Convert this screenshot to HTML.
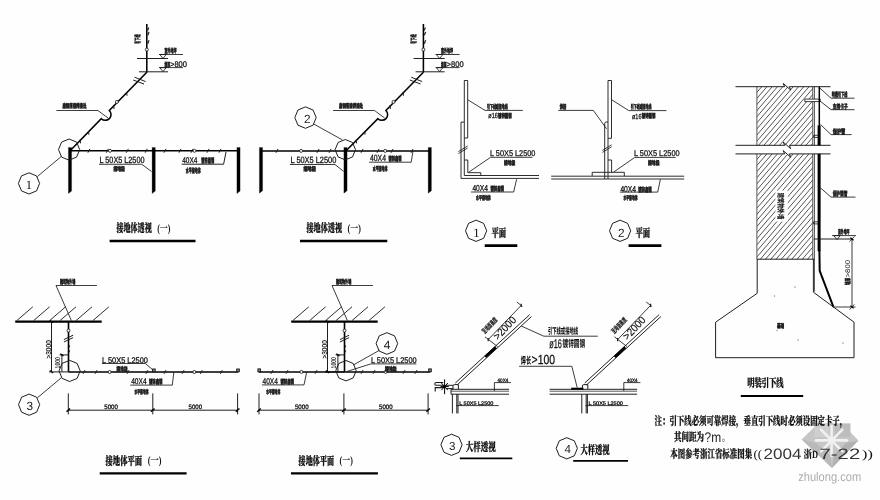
<!DOCTYPE html>
<html lang="zh-CN">
<head>
<meta charset="utf-8">
<title>接地体与引下线安装大样图</title>
<style>
html,body{margin:0;padding:0;background:#fff;}
body{width:880px;height:500px;overflow:hidden;}
svg{display:block;filter:blur(0.3px);}
svg text{white-space:pre;}
</style>
</head>
<body>
<svg width="880" height="500" viewBox="0 0 880 500" shape-rendering="geometricPrecision" text-rendering="geometricPrecision">
<rect x="0" y="0" width="880" height="500" fill="#fefefe"/>
<g stroke-linecap="butt">
<line x1="146.8" y1="24" x2="146.8" y2="72.4" stroke="#000" stroke-width="1.55"/>
<line x1="147.65" y1="30.5" x2="148.75" y2="27.5" stroke="#1a1a1a" stroke-width="1.1"/>
<line x1="147.78" y1="35.29" x2="149.02" y2="31.91" stroke="#1a1a1a" stroke-width="1.16"/>
<line x1="147.78" y1="43.69" x2="149.02" y2="40.31" stroke="#1a1a1a" stroke-width="1.16"/>
<circle cx="146.8" cy="49.6" r="1.5" fill="#fff" stroke="#1a1a1a" stroke-width="0.85"/>
<line x1="137" y1="58.5" x2="168" y2="58.5" stroke="#1a1a1a" stroke-width="0.98"/>
<line x1="139" y1="71.8" x2="168" y2="71.8" stroke="#1a1a1a" stroke-width="0.98"/>
<line x1="159" y1="54.5" x2="183" y2="54.5" stroke="#1a1a1a" stroke-width="0.85"/>
<polygon points="159.8,54.5 166.2,54.5 163,58.5" fill="none" stroke="#1a1a1a" stroke-width="0.85" stroke-linejoin="miter"/>
<line x1="159" y1="67.6" x2="183" y2="67.6" stroke="#1a1a1a" stroke-width="0.85"/>
<polygon points="159.8,67.6 166.2,67.6 163,71.6" fill="none" stroke="#1a1a1a" stroke-width="0.85" stroke-linejoin="miter"/>
<text x="164.5" y="52.8" font-size="6.2" font-family='"Liberation Sans","Noto Sans CJK SC",sans-serif' font-weight="900" textLength="12" lengthAdjust="spacingAndGlyphs" fill="#111" stroke="#111" stroke-width="0.42">室外地坪</text>
<text x="164.5" y="66.6" font-size="6.2" font-family='"Liberation Sans","Noto Sans CJK SC",sans-serif' font-weight="900" textLength="5.4" lengthAdjust="spacingAndGlyphs" fill="#111" stroke="#111" stroke-width="0.42">埋深</text>
<text x="170" y="66.6" font-size="8.2" font-family='"Liberation Sans","Noto Sans CJK SC",sans-serif' textLength="17" lengthAdjust="spacingAndGlyphs" fill="#111" stroke="#111" stroke-width="0.28">&gt;800</text>
<text x="139.6" y="43.8" font-size="6.6" font-family='"Liberation Sans","Noto Sans CJK SC",sans-serif' font-weight="900" textLength="9.4" lengthAdjust="spacingAndGlyphs" transform="rotate(-90 139.6 43.8)" fill="#111" stroke="#111" stroke-width="0.4">引下线</text>
<path d="M146.8,72.2 L109.3,110.5 A5.7,5.7 0 0 1 101.3,118.7 L70.6,150.2" fill="none" stroke="#000" stroke-width="1.55"/>
<line x1="134.6" y1="77.2" x2="145.6" y2="81.6" stroke="#1a1a1a" stroke-width="0.98"/>
<line x1="133.2" y1="80" x2="144" y2="84" stroke="#1a1a1a" stroke-width="0.98"/>
<circle cx="116.9" cy="101.9" r="1.5" fill="#fff" stroke="#1a1a1a" stroke-width="0.85"/>
<line x1="126.99" y1="95.75" x2="126.66" y2="91.97" stroke="#1a1a1a" stroke-width="0.98"/>
<line x1="114.04" y1="109.01" x2="113.71" y2="105.23" stroke="#1a1a1a" stroke-width="0.98"/>
<line x1="88.89" y1="134.75" x2="88.56" y2="130.97" stroke="#1a1a1a" stroke-width="0.98"/>
<line x1="80.51" y1="143.33" x2="80.18" y2="139.55" stroke="#1a1a1a" stroke-width="0.98"/>
<polyline points="56.4,110.5 97.9,110.5 108,118" fill="none" stroke="#1a1a1a" stroke-width="0.85" stroke-linejoin="miter"/>
<text x="62.4" y="108.4" font-size="6" font-family='"Liberation Sans","Noto Sans CJK SC",sans-serif' font-weight="900" textLength="24" lengthAdjust="spacingAndGlyphs" fill="#111" stroke="#111" stroke-width="0.42">扁钢搭接焊接处</text>
<line x1="70" y1="150.8" x2="238.5" y2="150.8" stroke="#000" stroke-width="1.5"/>
<polygon points="68.4,147.4 71.6,147.4 71.6,191.1 68.4,193.6" fill="#000" stroke="#000" stroke-width="0.24" stroke-linejoin="miter"/>
<polygon points="152.1,147.4 155.3,147.4 155.3,191.1 152.1,193.6" fill="#000" stroke="#000" stroke-width="0.24" stroke-linejoin="miter"/>
<polygon points="236.9,147.4 240.1,147.4 240.1,191.1 236.9,193.6" fill="#000" stroke="#000" stroke-width="0.24" stroke-linejoin="miter"/>
<polygon points="69.1,139 76.6,142.1 79.7,149.6 76.6,157.1 69.1,160.2 61.6,157.1 58.5,149.6 61.6,142.1" fill="none" stroke="#1a1a1a" stroke-width="0.98" stroke-linejoin="round"/>
<polygon points="29,172.8 36.5,175.9 39.6,183.4 36.5,190.9 29,194 21.5,190.9 18.4,183.4 21.5,175.9" fill="none" stroke="#1a1a1a" stroke-width="0.98" stroke-linejoin="round"/>
<line x1="37.3" y1="176.6" x2="60.9" y2="156.8" stroke="#1a1a1a" stroke-width="0.85"/>
<text x="28.8" y="189.2" font-size="12.6" font-family='"Liberation Serif","Noto Serif CJK SC",serif' text-anchor="middle" fill="#111">1</text>
<circle cx="110" cy="150.8" r="1.5" fill="#fff" stroke="#1a1a1a" stroke-width="0.85"/>
<circle cx="194.5" cy="150.8" r="1.5" fill="#fff" stroke="#1a1a1a" stroke-width="0.85"/>
<line x1="87.87" y1="152.74" x2="89.93" y2="148.86" stroke="#1a1a1a" stroke-width="0.98"/>
<line x1="106.27" y1="152.74" x2="108.33" y2="148.86" stroke="#1a1a1a" stroke-width="0.98"/>
<line x1="126.27" y1="152.74" x2="128.33" y2="148.86" stroke="#1a1a1a" stroke-width="0.98"/>
<line x1="145.17" y1="152.74" x2="147.23" y2="148.86" stroke="#1a1a1a" stroke-width="0.98"/>
<line x1="163.97" y1="152.74" x2="166.03" y2="148.86" stroke="#1a1a1a" stroke-width="0.98"/>
<line x1="178.97" y1="152.74" x2="181.03" y2="148.86" stroke="#1a1a1a" stroke-width="0.98"/>
<line x1="190.97" y1="152.74" x2="193.03" y2="148.86" stroke="#1a1a1a" stroke-width="0.98"/>
<line x1="206.97" y1="152.74" x2="209.03" y2="148.86" stroke="#1a1a1a" stroke-width="0.98"/>
<line x1="218.97" y1="152.74" x2="221.03" y2="148.86" stroke="#1a1a1a" stroke-width="0.98"/>
<text x="99.5" y="163.2" font-size="9" font-family='"Liberation Sans","Noto Sans CJK SC",sans-serif' textLength="45" lengthAdjust="spacingAndGlyphs" fill="#111" stroke="#111" stroke-width="0.28">L 50X5 L2500</text>
<polyline points="99,164.3 141.8,164.3 151.5,171.5" fill="none" stroke="#1a1a1a" stroke-width="0.85" stroke-linejoin="miter"/>
<text x="113.4" y="171.2" font-size="6" font-family='"Liberation Sans","Noto Sans CJK SC",sans-serif' font-weight="900" textLength="11.6" lengthAdjust="spacingAndGlyphs" fill="#111" stroke="#111" stroke-width="0.42">接地极</text>
<text x="182.2" y="163" font-size="8.4" font-family='"Liberation Sans","Noto Sans CJK SC",sans-serif' textLength="15.2" lengthAdjust="spacingAndGlyphs" fill="#111" stroke="#111" stroke-width="0.28">40X4</text>
<text x="201.3" y="163.2" font-size="6.8" font-family='"Liberation Sans","Noto Sans CJK SC",sans-serif' font-weight="900" textLength="12.8" lengthAdjust="spacingAndGlyphs" fill="#111" stroke="#111" stroke-width="0.42">镀锌扁钢</text>
<polyline points="181.6,164.2 223.6,164.2 226,152" fill="none" stroke="#1a1a1a" stroke-width="0.98" stroke-linejoin="miter"/>
<text x="185.8" y="172.5" font-size="6.5" font-family='"Liberation Sans","Noto Sans CJK SC",sans-serif' font-weight="900" textLength="14.8" lengthAdjust="spacingAndGlyphs" fill="#111" stroke="#111" stroke-width="0.42">水平接地体</text>
<text x="116.4" y="232" font-size="11.6" font-family='"Liberation Serif","Noto Serif CJK SC",serif' font-weight="900" textLength="35.37" lengthAdjust="spacingAndGlyphs" fill="#111" stroke="#000" stroke-width="0.25">接地体透视</text>
<text x="157.17" y="231.6" font-size="11.02" font-family='"Liberation Serif","Noto Serif CJK SC",serif' font-weight="bold" textLength="13.23" lengthAdjust="spacingAndGlyphs" fill="#111">(一)</text>
<line x1="109.6" y1="241" x2="195.5" y2="241" stroke="#000" stroke-width="2.3"/>
<line x1="423.4" y1="24" x2="423.4" y2="72.4" stroke="#000" stroke-width="1.55"/>
<line x1="424.25" y1="30.5" x2="425.35" y2="27.5" stroke="#1a1a1a" stroke-width="1.1"/>
<line x1="424.38" y1="35.29" x2="425.62" y2="31.91" stroke="#1a1a1a" stroke-width="1.16"/>
<line x1="424.38" y1="43.69" x2="425.62" y2="40.31" stroke="#1a1a1a" stroke-width="1.16"/>
<circle cx="423.4" cy="49.6" r="1.5" fill="#fff" stroke="#1a1a1a" stroke-width="0.85"/>
<line x1="413.6" y1="58.5" x2="444.6" y2="58.5" stroke="#1a1a1a" stroke-width="0.98"/>
<line x1="415.6" y1="71.8" x2="444.6" y2="71.8" stroke="#1a1a1a" stroke-width="0.98"/>
<line x1="435.6" y1="54.5" x2="459.6" y2="54.5" stroke="#1a1a1a" stroke-width="0.85"/>
<polygon points="436.4,54.5 442.8,54.5 439.6,58.5" fill="none" stroke="#1a1a1a" stroke-width="0.85" stroke-linejoin="miter"/>
<line x1="435.6" y1="67.6" x2="459.6" y2="67.6" stroke="#1a1a1a" stroke-width="0.85"/>
<polygon points="436.4,67.6 442.8,67.6 439.6,71.6" fill="none" stroke="#1a1a1a" stroke-width="0.85" stroke-linejoin="miter"/>
<text x="441.1" y="52.8" font-size="6.2" font-family='"Liberation Sans","Noto Sans CJK SC",sans-serif' font-weight="900" textLength="12" lengthAdjust="spacingAndGlyphs" fill="#111" stroke="#111" stroke-width="0.42">室外地坪</text>
<text x="441.1" y="66.6" font-size="6.2" font-family='"Liberation Sans","Noto Sans CJK SC",sans-serif' font-weight="900" textLength="5.4" lengthAdjust="spacingAndGlyphs" fill="#111" stroke="#111" stroke-width="0.42">埋深</text>
<text x="446.6" y="66.6" font-size="8.2" font-family='"Liberation Sans","Noto Sans CJK SC",sans-serif' textLength="17" lengthAdjust="spacingAndGlyphs" fill="#111" stroke="#111" stroke-width="0.28">&gt;800</text>
<text x="416.2" y="43.8" font-size="6.6" font-family='"Liberation Sans","Noto Sans CJK SC",sans-serif' font-weight="900" textLength="9.4" lengthAdjust="spacingAndGlyphs" transform="rotate(-90 416.2 43.8)" fill="#111" stroke="#111" stroke-width="0.4">引下线</text>
<path d="M423.4,72.2 L385.9,110.5 A5.7,5.7 0 0 1 377.9,118.7 L346.6,150.2" fill="none" stroke="#000" stroke-width="1.55"/>
<line x1="411.2" y1="77.2" x2="422.2" y2="81.6" stroke="#1a1a1a" stroke-width="0.98"/>
<line x1="409.8" y1="80" x2="420.6" y2="84" stroke="#1a1a1a" stroke-width="0.98"/>
<circle cx="393.5" cy="101.9" r="1.5" fill="#fff" stroke="#1a1a1a" stroke-width="0.85"/>
<line x1="403.43" y1="95.75" x2="403.1" y2="91.97" stroke="#1a1a1a" stroke-width="0.98"/>
<line x1="390.37" y1="109.01" x2="390.04" y2="105.23" stroke="#1a1a1a" stroke-width="0.98"/>
<line x1="365.03" y1="134.75" x2="364.7" y2="130.97" stroke="#1a1a1a" stroke-width="0.98"/>
<line x1="356.58" y1="143.33" x2="356.25" y2="139.55" stroke="#1a1a1a" stroke-width="0.98"/>
<polyline points="333,110.5 374.5,110.5 384.6,118" fill="none" stroke="#1a1a1a" stroke-width="0.85" stroke-linejoin="miter"/>
<text x="339" y="108.4" font-size="6" font-family='"Liberation Sans","Noto Sans CJK SC",sans-serif' font-weight="900" textLength="24" lengthAdjust="spacingAndGlyphs" fill="#111" stroke="#111" stroke-width="0.42">扁钢搭接焊接处</text>
<line x1="261" y1="150.9" x2="429.6" y2="150.9" stroke="#000" stroke-width="1.5"/>
<polygon points="259.4,147.4 262.6,147.4 262.6,190.7 259.4,193.2" fill="#000" stroke="#000" stroke-width="0.24" stroke-linejoin="miter"/>
<polygon points="343.9,147.4 347.1,147.4 347.1,190.7 343.9,193.2" fill="#000" stroke="#000" stroke-width="0.24" stroke-linejoin="miter"/>
<polygon points="428.2,147.4 431.4,147.4 431.4,190.7 428.2,193.2" fill="#000" stroke="#000" stroke-width="0.24" stroke-linejoin="miter"/>
<polygon points="345.3,139.5 352.51,142.49 355.5,149.7 352.51,156.91 345.3,159.9 338.09,156.91 335.1,149.7 338.09,142.49" fill="none" stroke="#1a1a1a" stroke-width="0.98" stroke-linejoin="round"/>
<polygon points="305.5,106.9 313.07,110.03 316.2,117.6 313.07,125.17 305.5,128.3 297.93,125.17 294.8,117.6 297.93,110.03" fill="none" stroke="#1a1a1a" stroke-width="0.98" stroke-linejoin="round"/>
<line x1="313.7" y1="124" x2="342.4" y2="139.9" stroke="#1a1a1a" stroke-width="0.85"/>
<text x="307.2" y="123.4" font-size="11.8" font-family='"Liberation Sans","Noto Sans CJK SC",sans-serif' text-anchor="middle" fill="#222">2</text>
<circle cx="301.1" cy="150.9" r="1.5" fill="#fff" stroke="#1a1a1a" stroke-width="0.85"/>
<circle cx="385.2" cy="150.9" r="1.5" fill="#fff" stroke="#1a1a1a" stroke-width="0.85"/>
<line x1="275.97" y1="152.84" x2="278.03" y2="148.96" stroke="#1a1a1a" stroke-width="0.98"/>
<line x1="316.97" y1="152.84" x2="319.03" y2="148.96" stroke="#1a1a1a" stroke-width="0.98"/>
<line x1="328.97" y1="152.84" x2="331.03" y2="148.96" stroke="#1a1a1a" stroke-width="0.98"/>
<line x1="360.97" y1="152.84" x2="363.03" y2="148.96" stroke="#1a1a1a" stroke-width="0.98"/>
<line x1="376.97" y1="152.84" x2="379.03" y2="148.96" stroke="#1a1a1a" stroke-width="0.98"/>
<line x1="390.97" y1="152.84" x2="393.03" y2="148.96" stroke="#1a1a1a" stroke-width="0.98"/>
<line x1="410.97" y1="152.84" x2="413.03" y2="148.96" stroke="#1a1a1a" stroke-width="0.98"/>
<text x="290.5" y="162.6" font-size="9" font-family='"Liberation Sans","Noto Sans CJK SC",sans-serif' textLength="45.8" lengthAdjust="spacingAndGlyphs" fill="#111" stroke="#111" stroke-width="0.28">L 50X5 L2500</text>
<polyline points="290,164.5 335,164.5 343.6,171.4" fill="none" stroke="#1a1a1a" stroke-width="0.85" stroke-linejoin="miter"/>
<text x="303.4" y="171.4" font-size="6" font-family='"Liberation Sans","Noto Sans CJK SC",sans-serif' font-weight="900" textLength="12.6" lengthAdjust="spacingAndGlyphs" fill="#111" stroke="#111" stroke-width="0.42">接地极</text>
<text x="370" y="161" font-size="9" font-family='"Liberation Sans","Noto Sans CJK SC",sans-serif' textLength="16" lengthAdjust="spacingAndGlyphs" fill="#111" stroke="#111" stroke-width="0.28">40X4</text>
<text x="388.5" y="161" font-size="6.4" font-family='"Liberation Sans","Noto Sans CJK SC",sans-serif' font-weight="900" textLength="13" lengthAdjust="spacingAndGlyphs" fill="#111" stroke="#111" stroke-width="0.42">镀锌扁钢</text>
<polyline points="369,162.2 411.2,162.2 413,151" fill="none" stroke="#1a1a1a" stroke-width="0.85" stroke-linejoin="miter"/>
<text x="372.7" y="170.8" font-size="6.2" font-family='"Liberation Sans","Noto Sans CJK SC",sans-serif' font-weight="900" textLength="14.8" lengthAdjust="spacingAndGlyphs" fill="#111" stroke="#111" stroke-width="0.42">水平接地体</text>
<text x="306.4" y="232" font-size="11.6" font-family='"Liberation Serif","Noto Serif CJK SC",serif' font-weight="900" textLength="35.76" lengthAdjust="spacingAndGlyphs" fill="#111" stroke="#000" stroke-width="0.25">接地体透视</text>
<text x="347.62" y="231.6" font-size="11.02" font-family='"Liberation Serif","Noto Serif CJK SC",serif' font-weight="bold" textLength="13.38" lengthAdjust="spacingAndGlyphs" fill="#111">(一)</text>
<line x1="300" y1="241" x2="387.3" y2="241" stroke="#000" stroke-width="2.3"/>
<polyline points="464.3,175.5 464.3,80.5 467.7,80.5 467.7,138 464.3,138" fill="none" stroke="#1a1a1a" stroke-width="0.92" stroke-linejoin="miter"/>
<polyline points="464.3,122.1 461,122.1 461,178.4 539,178.4" fill="none" stroke="#1a1a1a" stroke-width="0.92" stroke-linejoin="miter"/>
<line x1="464.3" y1="175.5" x2="539" y2="175.5" stroke="#1a1a1a" stroke-width="0.92"/>
<polyline points="464.3,160 467.8,160 467.8,172.7 480.8,172.7 480.8,175.5" fill="none" stroke="#1a1a1a" stroke-width="0.92" stroke-linejoin="miter"/>
<line x1="458.4" y1="151.6" x2="467.6" y2="146" stroke="#1a1a1a" stroke-width="0.85"/>
<line x1="458.4" y1="153.6" x2="467.6" y2="148" stroke="#1a1a1a" stroke-width="0.85"/>
<polyline points="467.8,99.8 485,110.4 522.8,110.4" fill="none" stroke="#1a1a1a" stroke-width="0.85" stroke-linejoin="miter"/>
<text x="487" y="109" font-size="6.2" font-family='"Liberation Sans","Noto Sans CJK SC",sans-serif' font-weight="900" textLength="20.6" lengthAdjust="spacingAndGlyphs" fill="#111" stroke="#111" stroke-width="0.42">引下线或接地线</text>
<text x="488.3" y="118.3" font-size="7.4" font-family='"Liberation Sans","Noto Sans CJK SC",sans-serif' textLength="9.5" lengthAdjust="spacingAndGlyphs" fill="#111" stroke="#111" stroke-width="0.28">ø16</text>
<text x="498" y="118.2" font-size="6.2" font-family='"Liberation Sans","Noto Sans CJK SC",sans-serif' font-weight="900" textLength="13.6" lengthAdjust="spacingAndGlyphs" fill="#111" stroke="#111" stroke-width="0.42">镀锌圆钢</text>
<polyline points="469,172 490.6,157.3 532.5,157.3" fill="none" stroke="#1a1a1a" stroke-width="0.85" stroke-linejoin="miter"/>
<text x="490" y="156.2" font-size="8.3" font-family='"Liberation Sans","Noto Sans CJK SC",sans-serif' textLength="45.4" lengthAdjust="spacingAndGlyphs" fill="#111" stroke="#111" stroke-width="0.28">L 50X5 L2500</text>
<text x="504" y="164.8" font-size="6" font-family='"Liberation Sans","Noto Sans CJK SC",sans-serif' font-weight="900" textLength="11.4" lengthAdjust="spacingAndGlyphs" fill="#111" stroke="#111" stroke-width="0.42">接地极</text>
<text x="472.4" y="191.3" font-size="8.6" font-family='"Liberation Sans","Noto Sans CJK SC",sans-serif' textLength="15.6" lengthAdjust="spacingAndGlyphs" fill="#111" stroke="#111" stroke-width="0.28">40X4</text>
<text x="490.4" y="191.3" font-size="6.4" font-family='"Liberation Sans","Noto Sans CJK SC",sans-serif' font-weight="900" textLength="13.6" lengthAdjust="spacingAndGlyphs" fill="#111" stroke="#111" stroke-width="0.42">镀锌扁钢</text>
<polyline points="471,192 513.7,192 516.6,179.2" fill="none" stroke="#1a1a1a" stroke-width="0.85" stroke-linejoin="miter"/>
<text x="476" y="199.6" font-size="6" font-family='"Liberation Sans","Noto Sans CJK SC",sans-serif' font-weight="900" textLength="14.8" lengthAdjust="spacingAndGlyphs" fill="#111" stroke="#111" stroke-width="0.42">水平接地体</text>
<polygon points="476.1,220.2 483.6,223.3 486.7,230.8 483.6,238.3 476.1,241.4 468.6,238.3 465.5,230.8 468.6,223.3" fill="none" stroke="#1a1a1a" stroke-width="0.98" stroke-linejoin="round"/>
<text x="476.4" y="236.8" font-size="12.6" font-family='"Liberation Serif","Noto Serif CJK SC",serif' text-anchor="middle" fill="#111">1</text>
<text x="491.4" y="237" font-size="11.8" font-family='"Liberation Serif","Noto Serif CJK SC",serif' font-weight="900" textLength="14.8" lengthAdjust="spacingAndGlyphs" fill="#111" stroke="#000" stroke-width="0.25">平面</text>
<line x1="484.7" y1="245.6" x2="517.3" y2="245.6" stroke="#000" stroke-width="2.6"/>
<polyline points="608,80.5 611.5,80.5 611.5,138.3 608,138.3" fill="none" stroke="#1a1a1a" stroke-width="0.92" stroke-linejoin="miter"/>
<line x1="608" y1="80.5" x2="608" y2="176.2" stroke="#1a1a1a" stroke-width="0.92"/>
<path d="M604.7,176.2 V123.6 Q604.7,122 606.3,122 H608" fill="none" stroke="#1a1a1a" stroke-width="0.92"/>
<line x1="551.2" y1="176.2" x2="684.2" y2="176.2" stroke="#1a1a1a" stroke-width="0.92"/>
<line x1="551.2" y1="179" x2="684.2" y2="179" stroke="#1a1a1a" stroke-width="0.92"/>
<line x1="604.7" y1="176.2" x2="604.7" y2="179" stroke="#1a1a1a" stroke-width="0.92"/>
<line x1="608" y1="176.2" x2="608" y2="179" stroke="#1a1a1a" stroke-width="0.92"/>
<polyline points="592.2,176.2 592.2,172.3 624.3,172.3 624.3,176.2" fill="none" stroke="#1a1a1a" stroke-width="0.92" stroke-linejoin="miter"/>
<polyline points="608,160 611.6,160 611.6,172.3" fill="none" stroke="#1a1a1a" stroke-width="0.92" stroke-linejoin="miter"/>
<line x1="602.4" y1="150.4" x2="611.6" y2="144.8" stroke="#1a1a1a" stroke-width="0.85"/>
<line x1="602.4" y1="152.4" x2="611.6" y2="146.8" stroke="#1a1a1a" stroke-width="0.85"/>
<polyline points="558.3,110.4 593.3,110.4 606.6,128.8" fill="none" stroke="#1a1a1a" stroke-width="0.85" stroke-linejoin="miter"/>
<text x="559.7" y="109" font-size="6.2" font-family='"Liberation Sans","Noto Sans CJK SC",sans-serif' font-weight="900" textLength="6.4" lengthAdjust="spacingAndGlyphs" fill="#111" stroke="#111" stroke-width="0.42">焊接</text>
<polyline points="612,100 628.8,110.6 666.5,110.6" fill="none" stroke="#1a1a1a" stroke-width="0.85" stroke-linejoin="miter"/>
<text x="630.8" y="109.2" font-size="6.2" font-family='"Liberation Sans","Noto Sans CJK SC",sans-serif' font-weight="900" textLength="20.6" lengthAdjust="spacingAndGlyphs" fill="#111" stroke="#111" stroke-width="0.42">引下线或接地线</text>
<text x="632" y="118.5" font-size="7.4" font-family='"Liberation Sans","Noto Sans CJK SC",sans-serif' textLength="9.5" lengthAdjust="spacingAndGlyphs" fill="#111" stroke="#111" stroke-width="0.28">ø16</text>
<text x="641.8" y="118.4" font-size="6.2" font-family='"Liberation Sans","Noto Sans CJK SC",sans-serif' font-weight="900" textLength="13.6" lengthAdjust="spacingAndGlyphs" fill="#111" stroke="#111" stroke-width="0.42">镀锌圆钢</text>
<polyline points="613.7,172 634.8,157.4 675.6,157.4" fill="none" stroke="#1a1a1a" stroke-width="0.85" stroke-linejoin="miter"/>
<text x="634" y="156.3" font-size="8.3" font-family='"Liberation Sans","Noto Sans CJK SC",sans-serif' textLength="45.6" lengthAdjust="spacingAndGlyphs" fill="#111" stroke="#111" stroke-width="0.28">L 50X5 L2500</text>
<text x="648" y="164.9" font-size="6" font-family='"Liberation Sans","Noto Sans CJK SC",sans-serif' font-weight="900" textLength="11.6" lengthAdjust="spacingAndGlyphs" fill="#111" stroke="#111" stroke-width="0.42">接地极</text>
<text x="620.4" y="191.5" font-size="8.6" font-family='"Liberation Sans","Noto Sans CJK SC",sans-serif' textLength="15.6" lengthAdjust="spacingAndGlyphs" fill="#111" stroke="#111" stroke-width="0.28">40X4</text>
<text x="638.2" y="191.5" font-size="6.4" font-family='"Liberation Sans","Noto Sans CJK SC",sans-serif' font-weight="900" textLength="13.4" lengthAdjust="spacingAndGlyphs" fill="#111" stroke="#111" stroke-width="0.42">镀锌扁钢</text>
<polyline points="619.9,192.1 657.7,192.1 660.4,179.3" fill="none" stroke="#1a1a1a" stroke-width="0.85" stroke-linejoin="miter"/>
<text x="623.4" y="200.3" font-size="6" font-family='"Liberation Sans","Noto Sans CJK SC",sans-serif' font-weight="900" textLength="14.2" lengthAdjust="spacingAndGlyphs" fill="#111" stroke="#111" stroke-width="0.42">水平接地体</text>
<polygon points="620.1,220.2 627.6,223.3 630.7,230.8 627.6,238.3 620.1,241.4 612.6,238.3 609.5,230.8 612.6,223.3" fill="none" stroke="#1a1a1a" stroke-width="0.98" stroke-linejoin="round"/>
<text x="621.2" y="236.8" font-size="11.8" font-family='"Liberation Sans","Noto Sans CJK SC",sans-serif' text-anchor="middle" fill="#222">2</text>
<text x="635.4" y="237" font-size="11.8" font-family='"Liberation Serif","Noto Serif CJK SC",serif' font-weight="900" textLength="14.8" lengthAdjust="spacingAndGlyphs" fill="#111" stroke="#000" stroke-width="0.25">平面</text>
<line x1="628.6" y1="245.6" x2="661.4" y2="245.6" stroke="#000" stroke-width="2.6"/>
<clipPath id="w1"><rect x="756.9" y="86.7" width="55.9" height="58.7"/></clipPath>
<clipPath id="w2"><rect x="756.9" y="153.9" width="55.9" height="105.3"/></clipPath>
<g clip-path="url(#w1)" stroke="#2a2a2a" stroke-width="0.8">
<line x1="755.9" y1="87.36" x2="813.8" y2="20.2"/>
<line x1="755.9" y1="93.46" x2="813.8" y2="26.3"/>
<line x1="755.9" y1="99.56" x2="813.8" y2="32.4"/>
<line x1="755.9" y1="105.66" x2="813.8" y2="38.5"/>
<line x1="755.9" y1="111.76" x2="813.8" y2="44.6"/>
<line x1="755.9" y1="117.86" x2="813.8" y2="50.7"/>
<line x1="755.9" y1="123.96" x2="813.8" y2="56.8"/>
<line x1="755.9" y1="130.06" x2="813.8" y2="62.9"/>
<line x1="755.9" y1="136.16" x2="813.8" y2="69"/>
<line x1="755.9" y1="142.26" x2="813.8" y2="75.1"/>
<line x1="755.9" y1="148.36" x2="813.8" y2="81.2"/>
<line x1="755.9" y1="154.46" x2="813.8" y2="87.3"/>
<line x1="755.9" y1="160.56" x2="813.8" y2="93.4"/>
<line x1="755.9" y1="166.66" x2="813.8" y2="99.5"/>
<line x1="755.9" y1="172.76" x2="813.8" y2="105.6"/>
<line x1="755.9" y1="178.86" x2="813.8" y2="111.7"/>
<line x1="755.9" y1="184.96" x2="813.8" y2="117.8"/>
<line x1="755.9" y1="191.06" x2="813.8" y2="123.9"/>
<line x1="755.9" y1="197.16" x2="813.8" y2="130"/>
<line x1="755.9" y1="203.26" x2="813.8" y2="136.1"/>
<line x1="755.9" y1="209.36" x2="813.8" y2="142.2"/>
</g>
<g clip-path="url(#w2)" stroke="#2a2a2a" stroke-width="0.8">
<line x1="755.9" y1="154.46" x2="813.8" y2="87.3"/>
<line x1="755.9" y1="160.56" x2="813.8" y2="93.4"/>
<line x1="755.9" y1="166.66" x2="813.8" y2="99.5"/>
<line x1="755.9" y1="172.76" x2="813.8" y2="105.6"/>
<line x1="755.9" y1="178.86" x2="813.8" y2="111.7"/>
<line x1="755.9" y1="184.96" x2="813.8" y2="117.8"/>
<line x1="755.9" y1="191.06" x2="813.8" y2="123.9"/>
<line x1="755.9" y1="197.16" x2="813.8" y2="130"/>
<line x1="755.9" y1="203.26" x2="813.8" y2="136.1"/>
<line x1="755.9" y1="209.36" x2="813.8" y2="142.2"/>
<line x1="755.9" y1="215.46" x2="813.8" y2="148.3"/>
<line x1="755.9" y1="221.56" x2="813.8" y2="154.4"/>
<line x1="755.9" y1="227.66" x2="813.8" y2="160.5"/>
<line x1="755.9" y1="233.76" x2="813.8" y2="166.6"/>
<line x1="755.9" y1="239.86" x2="813.8" y2="172.7"/>
<line x1="755.9" y1="245.96" x2="813.8" y2="178.8"/>
<line x1="755.9" y1="252.06" x2="813.8" y2="184.9"/>
<line x1="755.9" y1="258.16" x2="813.8" y2="191"/>
<line x1="755.9" y1="264.26" x2="813.8" y2="197.1"/>
<line x1="755.9" y1="270.36" x2="813.8" y2="203.2"/>
<line x1="755.9" y1="276.46" x2="813.8" y2="209.3"/>
<line x1="755.9" y1="282.56" x2="813.8" y2="215.4"/>
<line x1="755.9" y1="288.66" x2="813.8" y2="221.5"/>
<line x1="755.9" y1="294.76" x2="813.8" y2="227.6"/>
<line x1="755.9" y1="300.86" x2="813.8" y2="233.7"/>
<line x1="755.9" y1="306.96" x2="813.8" y2="239.8"/>
<line x1="755.9" y1="313.06" x2="813.8" y2="245.9"/>
<line x1="755.9" y1="319.16" x2="813.8" y2="252"/>
<line x1="755.9" y1="325.26" x2="813.8" y2="258.1"/>
</g>
<line x1="756.9" y1="86.7" x2="756.9" y2="145.3" stroke="#555" stroke-width="0.98"/>
<line x1="756.9" y1="153.9" x2="756.9" y2="259.2" stroke="#555" stroke-width="0.98"/>
<line x1="812.8" y1="86.7" x2="812.8" y2="145.3" stroke="#444" stroke-width="0.98"/>
<line x1="812.8" y1="153.9" x2="812.8" y2="259.2" stroke="#444" stroke-width="0.98"/>
<line x1="814.5" y1="86.7" x2="814.5" y2="145.3" stroke="#444" stroke-width="0.85"/>
<line x1="814.5" y1="153.9" x2="814.5" y2="291.5" stroke="#444" stroke-width="0.85"/>
<polyline points="735.5,86.7 784.6,86.7 783.2,83.4 790.6,90 789.4,86.7 830.5,86.7" fill="none" stroke="#1a1a1a" stroke-width="0.98" stroke-linejoin="miter"/>
<polyline points="735.5,145.3 784.6,145.3 783.2,142 790.6,148.6 789.4,145.3 830.5,145.3" fill="none" stroke="#1a1a1a" stroke-width="0.98" stroke-linejoin="miter"/>
<polyline points="735.5,153.9 784.6,153.9 783.2,150.6 790.6,157.2 789.4,153.9 830.5,153.9" fill="none" stroke="#1a1a1a" stroke-width="0.98" stroke-linejoin="miter"/>
<polygon points="820.2,99.1 804.8,99.1 804.8,101.6 820.2,101.6" fill="#fefefe" stroke="#1a1a1a" stroke-width="0.85" stroke-linejoin="miter"/>
<polyline points="818,135.3 813.6,135.3 813.6,137.4 818,137.4" fill="none" stroke="#1a1a1a" stroke-width="0.85" stroke-linejoin="miter"/>
<polyline points="818,221.8 813.6,221.8 813.6,223.9 818,223.9" fill="none" stroke="#1a1a1a" stroke-width="0.85" stroke-linejoin="miter"/>
<line x1="819.3" y1="86.7" x2="819.3" y2="145.3" stroke="#000" stroke-width="1.5"/>
<line x1="819.3" y1="153.9" x2="819.3" y2="252" stroke="#000" stroke-width="1.5"/>
<line x1="819.1" y1="125.4" x2="819.1" y2="145.3" stroke="#000" stroke-width="3"/>
<line x1="819.1" y1="153.9" x2="819.1" y2="251" stroke="#000" stroke-width="3"/>
<polyline points="819.4,250 819.7,270.8 833.4,306.8" fill="none" stroke="#000" stroke-width="2" stroke-linejoin="miter"/>
<polyline points="820,88.2 831,98.2 854.5,98.2" fill="none" stroke="#1a1a1a" stroke-width="0.85" stroke-linejoin="miter"/>
<text x="831.8" y="97" font-size="6.6" font-family='"Liberation Sans","Noto Sans CJK SC",sans-serif' font-weight="900" textLength="15.6" lengthAdjust="spacingAndGlyphs" fill="#111" stroke="#111" stroke-width="0.42">明敷引下线</text>
<polyline points="820,101 831,109.7 854.6,109.7" fill="none" stroke="#1a1a1a" stroke-width="0.85" stroke-linejoin="miter"/>
<text x="832.7" y="108.6" font-size="6.6" font-family='"Liberation Sans","Noto Sans CJK SC",sans-serif' font-weight="900" textLength="15" lengthAdjust="spacingAndGlyphs" fill="#111" stroke="#111" stroke-width="0.42">支持卡子</text>
<polyline points="820.6,124.6 831,134.6 851.6,134.6" fill="none" stroke="#1a1a1a" stroke-width="0.85" stroke-linejoin="miter"/>
<text x="832.7" y="133.5" font-size="6.6" font-family='"Liberation Sans","Noto Sans CJK SC",sans-serif' font-weight="900" textLength="12.6" lengthAdjust="spacingAndGlyphs" fill="#111" stroke="#111" stroke-width="0.42">保护管</text>
<polyline points="820.6,188 831,197.1 855.5,197.1" fill="none" stroke="#1a1a1a" stroke-width="0.85" stroke-linejoin="miter"/>
<text x="832.7" y="196" font-size="6.4" font-family='"Liberation Sans","Noto Sans CJK SC",sans-serif' font-weight="900" textLength="14.6" lengthAdjust="spacingAndGlyphs" fill="#111" stroke="#111" stroke-width="0.42">保护钢管</text>
<rect x="775.4" y="190.6" width="12.4" height="31" fill="#fefefe"/>
<text x="778.2" y="192.8" font-size="7.4" font-family='"Liberation Sans","Noto Sans CJK SC",sans-serif' font-weight="bold" textLength="26.4" lengthAdjust="spacingAndGlyphs" transform="rotate(90 778.2 192.8)" fill="#111" stroke="#111" stroke-width="0.1">建筑物外墙</text>
<line x1="813.6" y1="239" x2="852.4" y2="239" stroke="#1a1a1a" stroke-width="0.98"/>
<line x1="832" y1="235.6" x2="856" y2="235.6" stroke="#1a1a1a" stroke-width="0.85"/>
<polygon points="833.8,235.6 840.2,235.6 837,239.6" fill="none" stroke="#1a1a1a" stroke-width="0.85" stroke-linejoin="miter"/>
<text x="838" y="233.6" font-size="6" font-family='"Liberation Sans","Noto Sans CJK SC",sans-serif' font-weight="900" textLength="11.4" lengthAdjust="spacingAndGlyphs" fill="#111" stroke="#111" stroke-width="0.42">室外地坪</text>
<line x1="852" y1="239" x2="852" y2="307" stroke="#1a1a1a" stroke-width="0.85"/>
<line x1="833" y1="307" x2="855.5" y2="307" stroke="#1a1a1a" stroke-width="0.85"/>
<polyline points="850.4,237.8 853.6,240.2" fill="none" stroke="#000" stroke-width="1.3" stroke-linejoin="miter"/>
<polyline points="850.4,305.8 853.6,308.2" fill="none" stroke="#000" stroke-width="1.3" stroke-linejoin="miter"/>
<line x1="849.6" y1="241.6" x2="854.4" y2="236.4" stroke="#1a1a1a" stroke-width="0.85"/>
<line x1="849.6" y1="309.6" x2="854.4" y2="304.4" stroke="#1a1a1a" stroke-width="0.85"/>
<text x="849.8" y="285" font-size="6.2" font-family='"Liberation Sans","Noto Sans CJK SC",sans-serif' font-weight="900" textLength="7" lengthAdjust="spacingAndGlyphs" transform="rotate(-90 849.8 285)" fill="#111" stroke="#111" stroke-width="0.4">埋深</text>
<text x="850" y="277.4" font-size="7" font-family='"Liberation Sans","Noto Sans CJK SC",sans-serif' textLength="17.4" lengthAdjust="spacingAndGlyphs" transform="rotate(-90 850 277.4)" fill="#222">&gt;800</text>
<polyline points="757.2,259.2 757.2,293.3 715.6,322.2 715.6,357.7 854,357.7 854,322.2 813.4,292.2 813.4,259.2" fill="none" stroke="#1a1a1a" stroke-width="0.98" stroke-linejoin="miter"/>
<line x1="756.9" y1="259.2" x2="814.5" y2="259.2" stroke="#1a1a1a" stroke-width="0.98"/>
<text x="777" y="327.6" font-size="6" font-family='"Liberation Sans","Noto Sans CJK SC",sans-serif' font-weight="900" textLength="7.2" lengthAdjust="spacingAndGlyphs" fill="#111" stroke="#111" stroke-width="0.42">基础</text>
<circle cx="795" cy="287" r="0.4" fill="#666" stroke="#666" stroke-width="0.37"/>
<circle cx="774.5" cy="296" r="0.4" fill="#666" stroke="#666" stroke-width="0.37"/>
<circle cx="798" cy="340" r="0.4" fill="#666" stroke="#666" stroke-width="0.37"/>
<circle cx="843" cy="343" r="0.4" fill="#666" stroke="#666" stroke-width="0.37"/>
<circle cx="777" cy="330.6" r="0.4" fill="#666" stroke="#666" stroke-width="0.37"/>
<text x="747.2" y="387.4" font-size="11.6" font-family='"Liberation Serif","Noto Serif CJK SC",serif' font-weight="900" textLength="36.4" lengthAdjust="spacingAndGlyphs" fill="#111" stroke="#000" stroke-width="0.25">明装引下线</text>
<line x1="740.8" y1="396" x2="803.2" y2="396" stroke="#000" stroke-width="2.2"/>
<line x1="15.2" y1="321.6" x2="101.7" y2="321.6" stroke="#000" stroke-width="2.1"/>
<line x1="16.8" y1="320.6" x2="32.8" y2="306.8" stroke="#1a1a1a" stroke-width="0.92"/>
<line x1="33.6" y1="320.6" x2="49.6" y2="306.8" stroke="#1a1a1a" stroke-width="0.92"/>
<line x1="49.6" y1="320.6" x2="65.6" y2="306.8" stroke="#1a1a1a" stroke-width="0.92"/>
<line x1="60" y1="320.6" x2="76" y2="306.8" stroke="#1a1a1a" stroke-width="0.92"/>
<line x1="76" y1="320.6" x2="92" y2="306.8" stroke="#1a1a1a" stroke-width="0.92"/>
<line x1="92.9" y1="320.6" x2="108.9" y2="306.8" stroke="#1a1a1a" stroke-width="0.92"/>
<polyline points="96.9,285.5 56,285.5 71.4,320.6" fill="none" stroke="#1a1a1a" stroke-width="0.85" stroke-linejoin="miter"/>
<text x="60" y="284.4" font-size="6.2" font-family='"Liberation Sans","Noto Sans CJK SC",sans-serif' font-weight="900" textLength="15.2" lengthAdjust="spacingAndGlyphs" fill="#111" stroke="#111" stroke-width="0.42">建筑物外墙</text>
<line x1="68.5" y1="321.6" x2="68.5" y2="371.8" stroke="#000" stroke-width="1.6"/>
<circle cx="68.5" cy="330.6" r="1.5" fill="#fff" stroke="#1a1a1a" stroke-width="0.85"/>
<line x1="63.9" y1="339.6" x2="73.1" y2="335.2" stroke="#1a1a1a" stroke-width="0.98"/>
<line x1="63.9" y1="342" x2="73.1" y2="337.6" stroke="#1a1a1a" stroke-width="0.98"/>
<line x1="68.89" y1="347.63" x2="69.71" y2="345.37" stroke="#1a1a1a" stroke-width="0.98"/>
<line x1="68.89" y1="352.63" x2="69.71" y2="350.37" stroke="#1a1a1a" stroke-width="0.98"/>
<line x1="51.5" y1="321.6" x2="51.5" y2="371.8" stroke="#1a1a1a" stroke-width="0.98"/>
<text x="50.7" y="358.6" font-size="7.2" font-family='"Liberation Sans","Noto Sans CJK SC",sans-serif' textLength="18.4" lengthAdjust="spacingAndGlyphs" transform="rotate(-90 50.7 358.6)" fill="#111" stroke="#111" stroke-width="0.2">&gt;3000</text>
<polyline points="49.9,320.4 53.1,322.8" fill="none" stroke="#000" stroke-width="1.3" stroke-linejoin="miter"/>
<polyline points="49.9,370.6 53.1,373" fill="none" stroke="#000" stroke-width="1.3" stroke-linejoin="miter"/>
<line x1="49.1" y1="371.9" x2="68.5" y2="371.9" stroke="#1a1a1a" stroke-width="0.98"/>
<line x1="61.9" y1="354.4" x2="61.9" y2="371.8" stroke="#1a1a1a" stroke-width="0.98"/>
<line x1="59.6" y1="354.9" x2="68.5" y2="354.9" stroke="#1a1a1a" stroke-width="0.98"/>
<polyline points="60.3,353.7 63.5,356.1" fill="none" stroke="#000" stroke-width="1.3" stroke-linejoin="miter"/>
<text x="60.4" y="368.4" font-size="6.8" font-family='"Liberation Sans","Noto Sans CJK SC",sans-serif' textLength="11.2" lengthAdjust="spacingAndGlyphs" transform="rotate(-90 60.4 368.4)" fill="#111" stroke="#111" stroke-width="0.2">1000</text>
<line x1="68.4" y1="372" x2="238.2" y2="372" stroke="#000" stroke-width="1.5"/>
<polygon points="69.6,360.3 77.1,363.4 80.2,370.9 77.1,378.4 69.6,381.5 62.1,378.4 59,370.9 62.1,363.4" fill="none" stroke="#1a1a1a" stroke-width="0.98" stroke-linejoin="round"/>
<polygon points="29.1,394.1 36.6,397.2 39.7,404.7 36.6,412.2 29.1,415.3 21.6,412.2 18.5,404.7 21.6,397.2" fill="none" stroke="#1a1a1a" stroke-width="0.98" stroke-linejoin="round"/>
<line x1="37.3" y1="397.9" x2="61.5" y2="377.6" stroke="#1a1a1a" stroke-width="0.85"/>
<text x="29.7" y="410" font-size="11.8" font-family='"Liberation Sans","Noto Sans CJK SC",sans-serif' text-anchor="middle" fill="#222">3</text>
<rect x="152.6" y="369" width="2.6" height="2.8" fill="#8a8a8a" stroke="#111" stroke-width="0.9"/>
<rect x="236.7" y="369" width="2.6" height="2.8" fill="#8a8a8a" stroke="#111" stroke-width="0.9"/>
<circle cx="109.7" cy="372" r="1.5" fill="#fff" stroke="#1a1a1a" stroke-width="0.85"/>
<circle cx="194.3" cy="372" r="1.5" fill="#fff" stroke="#1a1a1a" stroke-width="0.85"/>
<line x1="83.01" y1="373.85" x2="84.99" y2="370.15" stroke="#1a1a1a" stroke-width="0.98"/>
<line x1="95.01" y1="373.85" x2="96.99" y2="370.15" stroke="#1a1a1a" stroke-width="0.98"/>
<line x1="127.01" y1="373.85" x2="128.99" y2="370.15" stroke="#1a1a1a" stroke-width="0.98"/>
<line x1="145.91" y1="373.85" x2="147.89" y2="370.15" stroke="#1a1a1a" stroke-width="0.98"/>
<line x1="164.01" y1="373.85" x2="165.99" y2="370.15" stroke="#1a1a1a" stroke-width="0.98"/>
<line x1="182.01" y1="373.85" x2="183.99" y2="370.15" stroke="#1a1a1a" stroke-width="0.98"/>
<line x1="200.31" y1="373.85" x2="202.29" y2="370.15" stroke="#1a1a1a" stroke-width="0.98"/>
<line x1="220.31" y1="373.85" x2="222.29" y2="370.15" stroke="#1a1a1a" stroke-width="0.98"/>
<text x="102" y="362.6" font-size="8.2" font-family='"Liberation Sans","Noto Sans CJK SC",sans-serif' textLength="46" lengthAdjust="spacingAndGlyphs" fill="#111" stroke="#111" stroke-width="0.28">L 50X5 L2500</text>
<polyline points="102,363.5 145.3,363.5 152.8,369.8" fill="none" stroke="#1a1a1a" stroke-width="0.85" stroke-linejoin="miter"/>
<text x="116.6" y="370.6" font-size="5.8" font-family='"Liberation Sans","Noto Sans CJK SC",sans-serif' font-weight="900" textLength="11" lengthAdjust="spacingAndGlyphs" fill="#111" stroke="#111" stroke-width="0.42">接地极</text>
<text x="131.2" y="384.2" font-size="8.4" font-family='"Liberation Sans","Noto Sans CJK SC",sans-serif' textLength="15.4" lengthAdjust="spacingAndGlyphs" fill="#111" stroke="#111" stroke-width="0.28">40X4</text>
<text x="149" y="384.2" font-size="6.4" font-family='"Liberation Sans","Noto Sans CJK SC",sans-serif' font-weight="900" textLength="13.4" lengthAdjust="spacingAndGlyphs" fill="#111" stroke="#111" stroke-width="0.42">镀锌扁钢</text>
<polyline points="130.2,385.1 172.3,385.1 173.8,372.6" fill="none" stroke="#1a1a1a" stroke-width="0.85" stroke-linejoin="miter"/>
<text x="134.5" y="393.8" font-size="6" font-family='"Liberation Sans","Noto Sans CJK SC",sans-serif' font-weight="900" textLength="14" lengthAdjust="spacingAndGlyphs" fill="#111" stroke="#111" stroke-width="0.42">水平接地体</text>
<line x1="68.3" y1="410.2" x2="237.6" y2="410.2" stroke="#1a1a1a" stroke-width="0.98"/>
<line x1="68.3" y1="393.4" x2="68.3" y2="414.4" stroke="#1a1a1a" stroke-width="0.98"/>
<polyline points="66.5,411.8 70.1,408.6" fill="none" stroke="#000" stroke-width="1.4" stroke-linejoin="miter"/>
<line x1="152.8" y1="393.4" x2="152.8" y2="414.4" stroke="#1a1a1a" stroke-width="0.98"/>
<polyline points="151,411.8 154.6,408.6" fill="none" stroke="#000" stroke-width="1.4" stroke-linejoin="miter"/>
<line x1="237.6" y1="393.4" x2="237.6" y2="414.4" stroke="#1a1a1a" stroke-width="0.98"/>
<polyline points="235.8,411.8 239.4,408.6" fill="none" stroke="#000" stroke-width="1.4" stroke-linejoin="miter"/>
<text x="104.3" y="409.2" font-size="6.4" font-family='"Liberation Sans","Noto Sans CJK SC",sans-serif' textLength="13.6" lengthAdjust="spacingAndGlyphs" fill="#111" stroke="#111" stroke-width="0.28">5000</text>
<text x="188.5" y="409.2" font-size="6.4" font-family='"Liberation Sans","Noto Sans CJK SC",sans-serif' textLength="13.6" lengthAdjust="spacingAndGlyphs" fill="#111" stroke="#111" stroke-width="0.28">5000</text>
<text x="105.5" y="464.6" font-size="11.6" font-family='"Liberation Serif","Noto Serif CJK SC",serif' font-weight="900" textLength="36.68" lengthAdjust="spacingAndGlyphs" fill="#111" stroke="#000" stroke-width="0.25">接地体平面</text>
<text x="147.78" y="464.2" font-size="11.02" font-family='"Liberation Serif","Noto Serif CJK SC",serif' font-weight="bold" textLength="13.72" lengthAdjust="spacingAndGlyphs" fill="#111">(一)</text>
<line x1="99.7" y1="473.3" x2="186.6" y2="473.3" stroke="#000" stroke-width="2.3"/>
<line x1="291.2" y1="321.6" x2="377.7" y2="321.6" stroke="#000" stroke-width="2.1"/>
<line x1="292.8" y1="320.6" x2="308.8" y2="306.8" stroke="#1a1a1a" stroke-width="0.92"/>
<line x1="309.6" y1="320.6" x2="325.6" y2="306.8" stroke="#1a1a1a" stroke-width="0.92"/>
<line x1="325.6" y1="320.6" x2="341.6" y2="306.8" stroke="#1a1a1a" stroke-width="0.92"/>
<line x1="336" y1="320.6" x2="352" y2="306.8" stroke="#1a1a1a" stroke-width="0.92"/>
<line x1="352" y1="320.6" x2="368" y2="306.8" stroke="#1a1a1a" stroke-width="0.92"/>
<line x1="368.9" y1="320.6" x2="384.9" y2="306.8" stroke="#1a1a1a" stroke-width="0.92"/>
<polyline points="372.9,285.5 332,285.5 347.4,320.6" fill="none" stroke="#1a1a1a" stroke-width="0.85" stroke-linejoin="miter"/>
<text x="336" y="284.4" font-size="6.2" font-family='"Liberation Sans","Noto Sans CJK SC",sans-serif' font-weight="900" textLength="15.2" lengthAdjust="spacingAndGlyphs" fill="#111" stroke="#111" stroke-width="0.42">建筑物外墙</text>
<line x1="344.5" y1="321.6" x2="344.5" y2="371.8" stroke="#000" stroke-width="1.6"/>
<circle cx="344.5" cy="330.6" r="1.5" fill="#fff" stroke="#1a1a1a" stroke-width="0.85"/>
<line x1="339.9" y1="339.6" x2="349.1" y2="335.2" stroke="#1a1a1a" stroke-width="0.98"/>
<line x1="339.9" y1="342" x2="349.1" y2="337.6" stroke="#1a1a1a" stroke-width="0.98"/>
<line x1="344.89" y1="347.63" x2="345.71" y2="345.37" stroke="#1a1a1a" stroke-width="0.98"/>
<line x1="344.89" y1="352.63" x2="345.71" y2="350.37" stroke="#1a1a1a" stroke-width="0.98"/>
<line x1="327.5" y1="321.6" x2="327.5" y2="371.8" stroke="#1a1a1a" stroke-width="0.98"/>
<text x="326.7" y="358.6" font-size="7.2" font-family='"Liberation Sans","Noto Sans CJK SC",sans-serif' textLength="18.4" lengthAdjust="spacingAndGlyphs" transform="rotate(-90 326.7 358.6)" fill="#111" stroke="#111" stroke-width="0.2">&gt;3000</text>
<polyline points="325.9,320.4 329.1,322.8" fill="none" stroke="#000" stroke-width="1.3" stroke-linejoin="miter"/>
<polyline points="325.9,370.6 329.1,373" fill="none" stroke="#000" stroke-width="1.3" stroke-linejoin="miter"/>
<line x1="325.1" y1="371.9" x2="344.5" y2="371.9" stroke="#1a1a1a" stroke-width="0.98"/>
<line x1="337.9" y1="354.4" x2="337.9" y2="371.8" stroke="#1a1a1a" stroke-width="0.98"/>
<line x1="335.6" y1="354.9" x2="344.5" y2="354.9" stroke="#1a1a1a" stroke-width="0.98"/>
<polyline points="336.3,353.7 339.5,356.1" fill="none" stroke="#000" stroke-width="1.3" stroke-linejoin="miter"/>
<text x="336.4" y="368.4" font-size="6.8" font-family='"Liberation Sans","Noto Sans CJK SC",sans-serif' textLength="11.2" lengthAdjust="spacingAndGlyphs" transform="rotate(-90 336.4 368.4)" fill="#111" stroke="#111" stroke-width="0.2">1000</text>
<line x1="258.6" y1="371.9" x2="430.3" y2="371.9" stroke="#000" stroke-width="1.5"/>
<polygon points="346,360.5 353.21,363.49 356.2,370.7 353.21,377.91 346,380.9 338.79,377.91 335.8,370.7 338.79,363.49" fill="none" stroke="#1a1a1a" stroke-width="0.98" stroke-linejoin="round"/>
<polygon points="386.9,332.7 394.54,335.86 397.7,343.5 394.54,351.14 386.9,354.3 379.26,351.14 376.1,343.5 379.26,335.86" fill="none" stroke="#1a1a1a" stroke-width="0.98" stroke-linejoin="round"/>
<line x1="379.4" y1="350.3" x2="353.7" y2="364.8" stroke="#1a1a1a" stroke-width="0.85"/>
<text x="387.2" y="348.9" font-size="12" font-family='"Liberation Sans","Noto Sans CJK SC",sans-serif' text-anchor="middle" fill="#222">4</text>
<rect x="257.9" y="368.9" width="2.6" height="2.8" fill="#8a8a8a" stroke="#111" stroke-width="0.9"/>
<rect x="428.7" y="368.9" width="2.6" height="2.8" fill="#8a8a8a" stroke="#111" stroke-width="0.9"/>
<circle cx="301.4" cy="371.9" r="1.5" fill="#fff" stroke="#1a1a1a" stroke-width="0.85"/>
<circle cx="385.6" cy="371.9" r="1.5" fill="#fff" stroke="#1a1a1a" stroke-width="0.85"/>
<line x1="271.01" y1="373.75" x2="272.99" y2="370.05" stroke="#1a1a1a" stroke-width="0.98"/>
<line x1="286.01" y1="373.75" x2="287.99" y2="370.05" stroke="#1a1a1a" stroke-width="0.98"/>
<line x1="315.01" y1="373.75" x2="316.99" y2="370.05" stroke="#1a1a1a" stroke-width="0.98"/>
<line x1="361.01" y1="373.75" x2="362.99" y2="370.05" stroke="#1a1a1a" stroke-width="0.98"/>
<line x1="373.01" y1="373.75" x2="374.99" y2="370.05" stroke="#1a1a1a" stroke-width="0.98"/>
<line x1="403.01" y1="373.75" x2="404.99" y2="370.05" stroke="#1a1a1a" stroke-width="0.98"/>
<line x1="415.01" y1="373.75" x2="416.99" y2="370.05" stroke="#1a1a1a" stroke-width="0.98"/>
<text x="370.9" y="362.8" font-size="8.2" font-family='"Liberation Sans","Noto Sans CJK SC",sans-serif' textLength="45.8" lengthAdjust="spacingAndGlyphs" fill="#111" stroke="#111" stroke-width="0.28">L 50X5 L2500</text>
<polyline points="416.4,363.9 370.9,363.9 346.4,371.6" fill="none" stroke="#1a1a1a" stroke-width="0.85" stroke-linejoin="miter"/>
<text x="385" y="371" font-size="5.8" font-family='"Liberation Sans","Noto Sans CJK SC",sans-serif' font-weight="900" textLength="11.8" lengthAdjust="spacingAndGlyphs" fill="#111" stroke="#111" stroke-width="0.42">接地极</text>
<text x="262.5" y="384.1" font-size="8.4" font-family='"Liberation Sans","Noto Sans CJK SC",sans-serif' textLength="15.4" lengthAdjust="spacingAndGlyphs" fill="#111" stroke="#111" stroke-width="0.28">40X4</text>
<text x="280.4" y="384.1" font-size="6.4" font-family='"Liberation Sans","Noto Sans CJK SC",sans-serif' font-weight="900" textLength="13.6" lengthAdjust="spacingAndGlyphs" fill="#111" stroke="#111" stroke-width="0.42">镀锌扁钢</text>
<polyline points="261.9,384.9 304,384.9 306.6,372.5" fill="none" stroke="#1a1a1a" stroke-width="0.85" stroke-linejoin="miter"/>
<text x="266.2" y="393.6" font-size="6" font-family='"Liberation Sans","Noto Sans CJK SC",sans-serif' font-weight="900" textLength="14" lengthAdjust="spacingAndGlyphs" fill="#111" stroke="#111" stroke-width="0.42">水平接地体</text>
<line x1="259" y1="410.2" x2="428.1" y2="410.2" stroke="#1a1a1a" stroke-width="0.98"/>
<line x1="259" y1="393.4" x2="259" y2="414.4" stroke="#1a1a1a" stroke-width="0.98"/>
<polyline points="257.2,411.8 260.8,408.6" fill="none" stroke="#000" stroke-width="1.4" stroke-linejoin="miter"/>
<line x1="343.9" y1="393.4" x2="343.9" y2="414.4" stroke="#1a1a1a" stroke-width="0.98"/>
<polyline points="342.1,411.8 345.7,408.6" fill="none" stroke="#000" stroke-width="1.4" stroke-linejoin="miter"/>
<line x1="428.1" y1="393.4" x2="428.1" y2="414.4" stroke="#1a1a1a" stroke-width="0.98"/>
<polyline points="426.3,411.8 429.9,408.6" fill="none" stroke="#000" stroke-width="1.4" stroke-linejoin="miter"/>
<text x="294.9" y="409.2" font-size="6.4" font-family='"Liberation Sans","Noto Sans CJK SC",sans-serif' textLength="13.8" lengthAdjust="spacingAndGlyphs" fill="#111" stroke="#111" stroke-width="0.28">5000</text>
<text x="379" y="409.2" font-size="6.4" font-family='"Liberation Sans","Noto Sans CJK SC",sans-serif' textLength="13.6" lengthAdjust="spacingAndGlyphs" fill="#111" stroke="#111" stroke-width="0.28">5000</text>
<text x="298.6" y="464.6" font-size="11.6" font-family='"Liberation Serif","Noto Serif CJK SC",serif' font-weight="900" textLength="35.5" lengthAdjust="spacingAndGlyphs" fill="#111" stroke="#000" stroke-width="0.25">接地体平面</text>
<text x="339.52" y="464.2" font-size="11.02" font-family='"Liberation Serif","Noto Serif CJK SC",serif' font-weight="bold" textLength="13.28" lengthAdjust="spacingAndGlyphs" fill="#111">(一)</text>
<line x1="291" y1="473.3" x2="377.9" y2="473.3" stroke="#000" stroke-width="2.3"/>
<line x1="455.32" y1="383.04" x2="529.72" y2="314.64" stroke="#1a1a1a" stroke-width="0.98"/>
<line x1="457.08" y1="384.96" x2="531.48" y2="316.56" stroke="#1a1a1a" stroke-width="0.98"/>
<line x1="485.3" y1="357.07" x2="495.9" y2="347.33" stroke="#000" stroke-width="2.8"/>
<line x1="488.2" y1="339.6" x2="521.2" y2="305.4" stroke="#1a1a1a" stroke-width="0.85"/>
<line x1="485" y1="336.8" x2="497.6" y2="346.6" stroke="#1a1a1a" stroke-width="0.85"/>
<line x1="516.8" y1="302" x2="522.4" y2="306.4" stroke="#1a1a1a" stroke-width="0.85"/>
<line x1="488.2" y1="341.3" x2="488.2" y2="337.9" stroke="#1a1a1a" stroke-width="1.2"/>
<line x1="521.2" y1="307.1" x2="521.2" y2="303.7" stroke="#1a1a1a" stroke-width="1.2"/>
<text x="484.8" y="334" font-size="6.6" font-family='"Liberation Sans","Noto Sans CJK SC",sans-serif' font-weight="bold" textLength="19" lengthAdjust="spacingAndGlyphs" transform="rotate(-46 484.8 334)" fill="#111" stroke="#111" stroke-width="0.15">至地面高度</text>
<text x="497.8" y="340.5" font-size="10.6" font-family='"Liberation Sans","Noto Sans CJK SC",sans-serif' textLength="27.6" lengthAdjust="spacingAndGlyphs" transform="rotate(-46 497.8 340.5)" fill="#111" stroke="#111" stroke-width="0.15">&gt;2000</text>
<line x1="451" y1="389.3" x2="509" y2="389.3" stroke="#1a1a1a" stroke-width="0.98"/>
<line x1="451" y1="391.2" x2="509" y2="391.2" stroke="#1a1a1a" stroke-width="0.73"/>
<line x1="451" y1="394.2" x2="509" y2="394.2" stroke="#1a1a1a" stroke-width="0.98"/>
<line x1="452.4" y1="394.2" x2="452.4" y2="413.4" stroke="#1a1a1a" stroke-width="0.98"/>
<line x1="456.8" y1="394.2" x2="456.8" y2="413.4" stroke="#1a1a1a" stroke-width="0.98"/>
<line x1="458" y1="394.2" x2="458" y2="413.4" stroke="#1a1a1a" stroke-width="0.98"/>
<line x1="451" y1="389.3" x2="451" y2="394.2" stroke="#1a1a1a" stroke-width="0.98"/>
<path d="M453,389.3 V386 Q453,384.6 454.4,384.6 H458.4 V389.3" fill="none" stroke="#1a1a1a" stroke-width="0.98"/>
<polyline points="494.4,391 494.4,382.6 511,382.6" fill="none" stroke="#1a1a1a" stroke-width="0.85" stroke-linejoin="miter"/>
<text x="497.6" y="381.6" font-size="5" font-family='"Liberation Sans","Noto Sans CJK SC",sans-serif' textLength="10.6" lengthAdjust="spacingAndGlyphs" fill="#111" stroke="#111" stroke-width="0.28">40X4</text>
<line x1="456" y1="405.6" x2="498.8" y2="405.6" stroke="#1a1a1a" stroke-width="0.85"/>
<text x="459.2" y="404.8" font-size="5.2" font-family='"Liberation Sans","Noto Sans CJK SC",sans-serif' textLength="34.2" lengthAdjust="spacingAndGlyphs" fill="#111" stroke="#111" stroke-width="0.28">L 50X5 L2500</text>
<path d="M443.2,382.5 H436.2 Q434.8,382.5 434.8,383.9 Q434.8,385.3 436.2,385.3 H443.2" fill="none" stroke="#1a1a1a" stroke-width="1.1"/>
<path d="M435.2,391.4 V387.6 H443" fill="none" stroke="#1a1a1a" stroke-width="1.1"/>
<line x1="446" y1="385.3" x2="453" y2="385.3" stroke="#1a1a1a" stroke-width="0.98"/>
<line x1="446" y1="388.6" x2="453" y2="388.6" stroke="#1a1a1a" stroke-width="0.98"/>
<line x1="444.6" y1="379.4" x2="444.6" y2="394.2" stroke="#000" stroke-width="1"/>
<line x1="440.6" y1="386.6" x2="448.8" y2="386.6" stroke="#000" stroke-width="1"/>
<line x1="441.4" y1="383" x2="447.8" y2="390.2" stroke="#000" stroke-width="1"/>
<line x1="441.4" y1="390.2" x2="447.8" y2="383" stroke="#000" stroke-width="1"/>
<circle cx="444.6" cy="386.6" r="1.7" fill="#000"/>
<polyline points="521.2,326 543.8,336.2 597.8,336.2" fill="none" stroke="#1a1a1a" stroke-width="0.85" stroke-linejoin="miter"/>
<text x="548" y="334" font-size="8.6" font-family='"Liberation Sans","Noto Sans CJK SC",sans-serif' font-weight="bold" textLength="30" lengthAdjust="spacingAndGlyphs" fill="#111" stroke="#111" stroke-width="0.12">引下线或接地线</text>
<text x="549.2" y="347.6" font-size="12.6" font-family='"Liberation Sans","Noto Sans CJK SC",sans-serif' textLength="12.6" lengthAdjust="spacingAndGlyphs" fill="#111" stroke="#111" stroke-width="0.28">ø16</text>
<text x="562.6" y="347.4" font-size="9.8" font-family='"Liberation Sans","Noto Sans CJK SC",sans-serif' font-weight="bold" textLength="22.4" lengthAdjust="spacingAndGlyphs" fill="#111" stroke="#111" stroke-width="0.12">镀锌圆钢</text>
<text x="520.8" y="364" font-size="9.8" font-family='"Liberation Sans","Noto Sans CJK SC",sans-serif' font-weight="bold" textLength="10.2" lengthAdjust="spacingAndGlyphs" fill="#111" stroke="#111" stroke-width="0.12">焊长</text>
<text x="531.6" y="364.4" font-size="13.2" font-family='"Liberation Sans","Noto Sans CJK SC",sans-serif' textLength="23.4" lengthAdjust="spacingAndGlyphs" fill="#111" stroke="#111" stroke-width="0.28">&gt;100</text>
<polyline points="519.2,366.3 571.8,366.3 577.2,387.6" fill="none" stroke="#1a1a1a" stroke-width="0.85" stroke-linejoin="miter"/>
<line x1="584.72" y1="383.04" x2="659.12" y2="314.64" stroke="#1a1a1a" stroke-width="0.98"/>
<line x1="586.48" y1="384.96" x2="660.88" y2="316.56" stroke="#1a1a1a" stroke-width="0.98"/>
<line x1="614.7" y1="357.07" x2="625.3" y2="347.33" stroke="#000" stroke-width="2.8"/>
<line x1="617.6" y1="339.6" x2="650.6" y2="305.4" stroke="#1a1a1a" stroke-width="0.85"/>
<line x1="614.4" y1="336.8" x2="627" y2="346.6" stroke="#1a1a1a" stroke-width="0.85"/>
<line x1="646.2" y1="302" x2="651.8" y2="306.4" stroke="#1a1a1a" stroke-width="0.85"/>
<line x1="617.6" y1="341.3" x2="617.6" y2="337.9" stroke="#1a1a1a" stroke-width="1.2"/>
<line x1="650.6" y1="307.1" x2="650.6" y2="303.7" stroke="#1a1a1a" stroke-width="1.2"/>
<text x="614.2" y="334" font-size="6.6" font-family='"Liberation Sans","Noto Sans CJK SC",sans-serif' font-weight="bold" textLength="19" lengthAdjust="spacingAndGlyphs" transform="rotate(-46 614.2 334)" fill="#111" stroke="#111" stroke-width="0.15">至地面高度</text>
<text x="627.2" y="340.5" font-size="10.6" font-family='"Liberation Sans","Noto Sans CJK SC",sans-serif' textLength="27.6" lengthAdjust="spacingAndGlyphs" transform="rotate(-46 627.2 340.5)" fill="#111" stroke="#111" stroke-width="0.15">&gt;2000</text>
<line x1="549.6" y1="389.3" x2="637.1" y2="389.3" stroke="#1a1a1a" stroke-width="0.98"/>
<line x1="549.6" y1="391.2" x2="637.1" y2="391.2" stroke="#1a1a1a" stroke-width="0.73"/>
<line x1="549.6" y1="394.2" x2="637.1" y2="394.2" stroke="#1a1a1a" stroke-width="0.98"/>
<line x1="581.8" y1="394.2" x2="581.8" y2="413.4" stroke="#1a1a1a" stroke-width="0.98"/>
<line x1="586.2" y1="394.2" x2="586.2" y2="413.4" stroke="#1a1a1a" stroke-width="0.98"/>
<line x1="587.4" y1="394.2" x2="587.4" y2="413.4" stroke="#1a1a1a" stroke-width="0.98"/>
<path d="M582.4,389.3 V386 Q582.4,384.6 583.8,384.6 H587.8 V389.3" fill="none" stroke="#1a1a1a" stroke-width="0.98"/>
<polyline points="623.8,391 623.8,382.6 640.4,382.6" fill="none" stroke="#1a1a1a" stroke-width="0.85" stroke-linejoin="miter"/>
<text x="627" y="381.6" font-size="5" font-family='"Liberation Sans","Noto Sans CJK SC",sans-serif' textLength="10.6" lengthAdjust="spacingAndGlyphs" fill="#111" stroke="#111" stroke-width="0.28">40X4</text>
<line x1="585.4" y1="405.6" x2="628.2" y2="405.6" stroke="#1a1a1a" stroke-width="0.85"/>
<text x="588.6" y="404.8" font-size="5.2" font-family='"Liberation Sans","Noto Sans CJK SC",sans-serif' textLength="34.2" lengthAdjust="spacingAndGlyphs" fill="#111" stroke="#111" stroke-width="0.28">L 50X5 L2500</text>
<line x1="571.2" y1="388.7" x2="583.4" y2="388.7" stroke="#000" stroke-width="2"/>
<polygon points="451.5,434.2 459,437.3 462.1,444.8 459,452.3 451.5,455.4 444,452.3 440.9,444.8 444,437.3" fill="none" stroke="#1a1a1a" stroke-width="0.98" stroke-linejoin="round"/>
<text x="452.3" y="449.8" font-size="11.6" font-family='"Liberation Sans","Noto Sans CJK SC",sans-serif' text-anchor="middle" fill="#222">3</text>
<text x="465.8" y="451.2" font-size="11.8" font-family='"Liberation Serif","Noto Serif CJK SC",serif' font-weight="900" textLength="29.8" lengthAdjust="spacingAndGlyphs" fill="#111" stroke="#000" stroke-width="0.25">大样透视</text>
<line x1="459.8" y1="458.3" x2="512.3" y2="458.3" stroke="#000" stroke-width="1.8"/>
<polygon points="566.8,437.7 574.3,440.8 577.4,448.3 574.3,455.8 566.8,458.9 559.3,455.8 556.2,448.3 559.3,440.8" fill="none" stroke="#1a1a1a" stroke-width="0.98" stroke-linejoin="round"/>
<text x="567.8" y="453.4" font-size="11.6" font-family='"Liberation Sans","Noto Sans CJK SC",sans-serif' text-anchor="middle" fill="#222">4</text>
<text x="580.4" y="453.6" font-size="11.8" font-family='"Liberation Serif","Noto Serif CJK SC",serif' font-weight="900" textLength="29.2" lengthAdjust="spacingAndGlyphs" fill="#111" stroke="#000" stroke-width="0.25">大样透视</text>
<line x1="573.2" y1="460.9" x2="628" y2="460.9" stroke="#000" stroke-width="1.8"/>
<g>
<polygon points="801.7,439.6 814.3,427 814.3,423.6 826,423.6 829.6,421.2 834,423.6 850.3,423.6 850.3,432 858.4,440.6 832,468" fill="#c6c6c6"/>
<polygon points="814.3,423.6 829,423.6 829,437 814.3,437" fill="#cfcfcf"/>
<polygon points="835,423.6 850.3,423.6 850.3,437 835,437" fill="#bdbdbd"/>
<polygon points="801.7,439.6 816,443 830,455 832,468" fill="#b9b9b9"/>
<polygon points="858.4,440.6 846,443 834,455 832,468" fill="#b2b2b2"/>
<g stroke="#f1f1f1" stroke-width="2.6" stroke-linecap="round"><line x1="831.6" y1="426" x2="831.6" y2="456"/><line x1="816" y1="440.4" x2="847" y2="440.4"/><line x1="821" y1="429.6" x2="842.4" y2="451.4"/><line x1="821" y1="451.4" x2="842.4" y2="429.6"/></g>
</g>
<text x="798.2" y="480.6" font-size="12.6" font-family='"Liberation Sans","Noto Sans CJK SC",sans-serif' textLength="63" lengthAdjust="spacingAndGlyphs" fill="#adadad">zhulong.com</text>
<text x="654.6" y="425" font-size="11.6" font-family='"Liberation Serif","Noto Serif CJK SC",serif' font-weight="900" textLength="192.6" lengthAdjust="spacingAndGlyphs" fill="#111" stroke="#000" stroke-width="0.2">注：引下线必须可靠焊接，垂直引下线时必须设固定卡子，</text>
<text x="674" y="441.2" font-size="11.6" font-family='"Liberation Serif","Noto Serif CJK SC",serif' font-weight="900" textLength="30" lengthAdjust="spacingAndGlyphs" fill="#111" stroke="#000" stroke-width="0.2">其间距为</text>
<text x="704.6" y="441.8" font-size="14" font-family='"Liberation Sans","Noto Sans CJK SC",sans-serif' textLength="16.6" lengthAdjust="spacingAndGlyphs" fill="#222">?m</text>
<text x="722" y="441.4" font-size="11" font-family='"Liberation Serif","Noto Serif CJK SC",serif' font-weight="900" textLength="8" lengthAdjust="spacingAndGlyphs" fill="#111">。</text>
<text x="670.2" y="457.8" font-size="11.6" font-family='"Liberation Serif","Noto Serif CJK SC",serif' font-weight="900" textLength="82" lengthAdjust="spacingAndGlyphs" fill="#111" stroke="#000" stroke-width="0.2">本图参考浙江省标准图集</text>
<text x="753.4" y="457.8" font-size="12" font-family='"Liberation Serif","Noto Serif CJK SC",serif' textLength="8.6" lengthAdjust="spacingAndGlyphs" fill="#111">((</text>
<text x="763.4" y="458.6" font-size="15" font-family='"Liberation Sans","Noto Sans CJK SC",sans-serif' textLength="38" lengthAdjust="spacingAndGlyphs" fill="#333">2004</text>
<text x="803.6" y="457.8" font-size="11" font-family='"Liberation Serif","Noto Serif CJK SC",serif' font-weight="900" textLength="14.6" lengthAdjust="spacingAndGlyphs" fill="#111">浙D</text>
<text x="819.6" y="458.6" font-size="15" font-family='"Liberation Sans","Noto Sans CJK SC",sans-serif' textLength="40.6" lengthAdjust="spacingAndGlyphs" fill="#333">7-22</text>
<text x="862" y="457.8" font-size="12" font-family='"Liberation Serif","Noto Serif CJK SC",serif' textLength="10.8" lengthAdjust="spacingAndGlyphs" fill="#111">))</text>
</g>
</svg>
</body>
</html>
